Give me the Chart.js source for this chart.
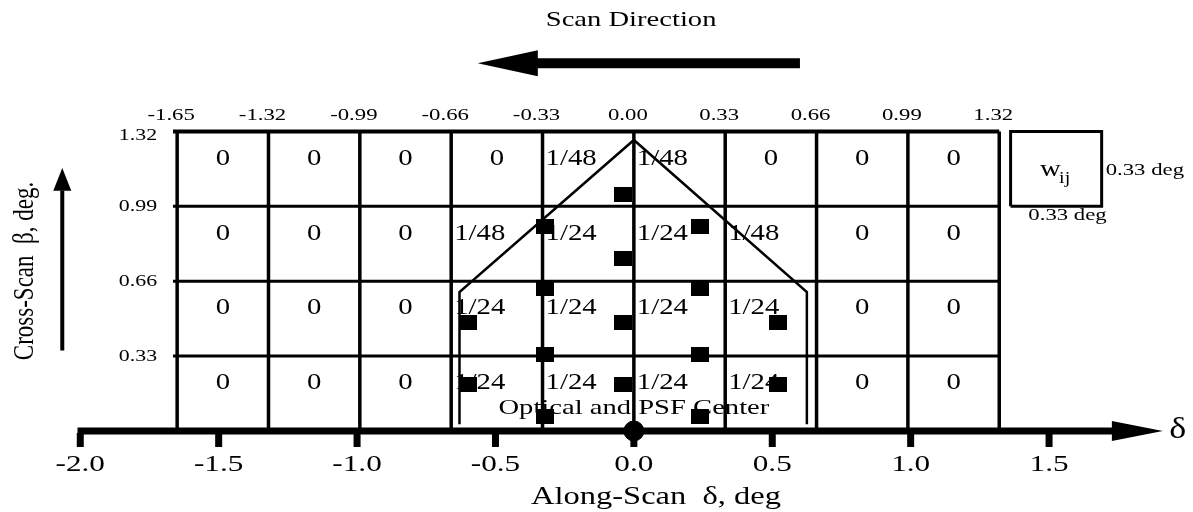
<!DOCTYPE html>
<html>
<head>
<meta charset="utf-8">
<script src="https://cdn.jsdelivr.net/npm/chart.js@4.4.1/dist/chart.umd.min.js"></script>
<style>
  body { margin: 0; background: #fff; }
  canvas { display: block; }
</style>
</head>
<body>
<canvas id="myChart" width="1193" height="512"></canvas>
<script>
// grid cell edges (deg)
const colEdges = [-1.65, -1.32, -0.99, -0.66, -0.33, 0.00, 0.33, 0.66, 0.99, 1.32];
const rowEdges = [0.33, 0.66, 0.99, 1.32];
const topTickLabels = ['-1.65', '-1.32', '-0.99', '-0.66', '-0.33', '0.00', '0.33', '0.66', '0.99', '1.32'];
const sideTickLabels = ['0.33', '0.66', '0.99', '1.32'];
// weights, top row first
const weights = [
    ['0', '0', '0', '0', '1/48', '1/48', '0', '0', '0'],
    ['0', '0', '0', '1/48', '1/24', '1/24', '1/48', '0', '0'],
    ['0', '0', '0', '1/24', '1/24', '1/24', '1/24', '0', '0'],
    ['0', '0', '0', '1/24', '1/24', '1/24', '1/24', '0', '0']
];
// along-scan axis ticks
const xTicks = [-2.0, -1.5, -1.0, -0.5, 0.0, 0.5, 1.0, 1.5];
const xTickLabels = ['-2.0', '-1.5', '-1.0', '-0.5', '0.0', '0.5', '1.0', '1.5'];
// sample points
const sampleX = [-0.04, -0.32, 0.24, -0.04, -0.32, 0.24, -0.60, -0.04, 0.52, -0.32, 0.24, -0.60, -0.04, 0.52, -0.32, 0.24];
const sampleY = [1.04, 0.90, 0.90, 0.76, 0.626, 0.626, 0.48, 0.48, 0.48, 0.335, 0.335, 0.203, 0.203, 0.203, 0.066, 0.066];
// hexagonal footprint outline
const hexX = [-0.63, -0.63, 0.0, 0.625, 0.625];
const hexY = [0.03, 0.612, 1.282, 0.612, 0.03];

const FONT = '"Liberation Serif", "Times New Roman", serif';

function txt(ctx, s, x, y, size, align, sx) {
    ctx.save();
    ctx.font = size + 'px ' + FONT;
    ctx.textAlign = align || 'center';
    ctx.textBaseline = 'middle';
    ctx.fillStyle = '#000';
    ctx.translate(x, y);
    ctx.scale(sx || 1.3, 1);
    ctx.fillText(s, 0, 0);
    ctx.restore();
}

function tri(ctx, pts) {
    ctx.beginPath();
    ctx.moveTo(pts[0][0], pts[0][1]);
    ctx.lineTo(pts[1][0], pts[1][1]);
    ctx.lineTo(pts[2][0], pts[2][1]);
    ctx.closePath();
    ctx.fillStyle = '#000';
    ctx.fill();
}

function line(data, width) {
    return {
        data: data,
        showLine: true,
        borderColor: '#000',
        borderWidth: width,
        pointRadius: 0,
        fill: false,
        tension: 0
    };
}

const datasets = [];
colEdges.forEach(x => datasets.push(line([{ x: x, y: 0 }, { x: x, y: 1.32 }], 3.5)));
rowEdges.forEach(y => datasets.push(line([{ x: -1.665, y: y }, { x: 1.32, y: y }], y === 1.32 ? 4 : 3)));
datasets.push(line(hexX.map((x, i) => ({ x: x, y: hexY[i] })), 2.5));
// w_ij box
datasets.push(line([{ x: 1.361, y: 0.99 }, { x: 1.69, y: 0.99 }, { x: 1.69, y: 1.32 }, { x: 1.361, y: 1.32 }, { x: 1.361, y: 0.99 }], 3));
// along-scan axis
datasets.push(line([{ x: -2.01, y: 0 }, { x: 1.76, y: 0 }], 7));
// scan direction arrow shaft
datasets.push(line([{ x: 0.6, y: 1.62 }, { x: -0.35, y: 1.62 }], 10));
// cross-scan arrow shaft
datasets.push(line([{ x: -2.065, y: 0.355 }, { x: -2.065, y: 1.06 }], 4));

const sq = document.createElement('canvas');
sq.width = 18; sq.height = 15;
sq.getContext('2d').fillRect(0, 0, 18, 15);
datasets.push({
    data: sampleX.map((x, i) => ({ x: x, y: sampleY[i] })),
    pointStyle: sq,
    pointRadius: 9,
    showLine: false
});
datasets.push({
    data: [{ x: 0, y: 0 }],
    pointStyle: 'circle',
    pointRadius: 10,
    backgroundColor: '#000',
    borderColor: '#000',
    showLine: false
});

const labelsPlugin = {
    id: 'labels',
    beforeDatasetsDraw(chart) {
        const ctx = chart.ctx;
        const xs = chart.scales.x, ys = chart.scales.y;
        // cell weights
        weights.forEach((row, r) => {
            const yc = (rowEdges[3 - r] + rowEdges[3 - r] - 0.33) / 2 + 0.045;
            row.forEach((w, c) => {
                if (w === '0') {
                    txt(ctx, w, xs.getPixelForValue((colEdges[c] + colEdges[c + 1]) / 2), ys.getPixelForValue(yc), 23, 'center', 1.25);
                } else {
                    txt(ctx, w, xs.getPixelForValue(colEdges[c]) + 3, ys.getPixelForValue(yc), 23, 'left', 1.25);
                }
            });
        });
        // top labels
        colEdges.forEach((x, i) => txt(ctx, topTickLabels[i], xs.getPixelForValue(x) - 6, ys.getPixelForValue(1.32) - 16, 17.5, 'center', 1.3));
        // side labels
        rowEdges.forEach((y, i) => txt(ctx, sideTickLabels[i], xs.getPixelForValue(-1.65) - 20, ys.getPixelForValue(y) + (y === 1.32 ? 4 : 0), 17.5, 'right', 1.25));
        txt(ctx, 'Optical and PSF Center', xs.getPixelForValue(0), ys.getPixelForValue(0) - 23, 22, 'center', 1.3);
    },
    afterDatasetsDraw(chart) {
        const ctx = chart.ctx;
        const xs = chart.scales.x, ys = chart.scales.y;
        const X = v => xs.getPixelForValue(v), Y = v => ys.getPixelForValue(v);
        const y0 = Y(0);
        // axis ticks and labels
        xTicks.forEach((t, i) => {
            ctx.fillStyle = '#000';
            ctx.fillRect(X(t) - 3.5, y0 + 2, 7, 14);
            txt(ctx, xTickLabels[i], X(t), y0 + 34, 24, 'center', 1.3);
        });
        // arrowheads
        tri(ctx, [[X(1.727), y0 - 10], [X(1.911), y0], [X(1.727), y0 + 10]]);
        tri(ctx, [[X(-0.347), Y(1.62) - 13], [X(-0.564), Y(1.62)], [X(-0.347), Y(1.62) + 13]]);
        tri(ctx, [[X(-2.065) - 9, Y(1.058)], [X(-2.065), Y(1.159)], [X(-2.065) + 9, Y(1.058)]]);
        // titles
        txt(ctx, '\u03B4', X(1.965), y0 - 1, 30, 'center', 1.2);
        txt(ctx, 'Along-Scan  \u03B4, deg', X(0.08), y0 + 66, 25, 'center', 1.3);
        txt(ctx, 'Scan Direction', X(-0.01), 20, 22, 'center', 1.3);
        ctx.save();
        ctx.translate(25, Y(0.705));
        ctx.rotate(-Math.PI / 2);
        ctx.scale(1, 1.3);
        ctx.font = '23px ' + FONT;
        ctx.textAlign = 'center';
        ctx.textBaseline = 'middle';
        ctx.fillStyle = '#000';
        ctx.fillText('Cross-Scan  \u03B2, deg.', 0, 0);
        ctx.restore();
        // w_ij legend box
        const bx = (X(1.361) + X(1.69)) / 2, by = (Y(0.99) + Y(1.32)) / 2;
        txt(ctx, 'w', bx - 16, by + 1, 23, 'left', 1.25);
        txt(ctx, 'ij', bx + 3, by + 10, 16, 'left', 1.25);
        txt(ctx, '0.33 deg', X(1.69) + 4, by + 2, 17.5, 'left', 1.3);
        txt(ctx, '0.33 deg', X(1.36) + 18, Y(0.99) + 9, 17.5, 'left', 1.3);
    }
};

const ctx = document.getElementById('myChart').getContext('2d');
new Chart(ctx, {
    type: 'scatter',
    data: { datasets: datasets },
    options: {
        responsive: false,
        animation: false,
        events: [],
        layout: { padding: 0, autoPadding: false },
        plugins: { legend: { display: false }, tooltip: { enabled: false } },
        scales: {
            x: { type: 'linear', display: false, min: -2.29, max: 2.02 },
            y: { type: 'linear', display: false, min: -0.357, max: 1.899 }
        }
    },
    plugins: [labelsPlugin]
});
</script>
</body>
</html>
